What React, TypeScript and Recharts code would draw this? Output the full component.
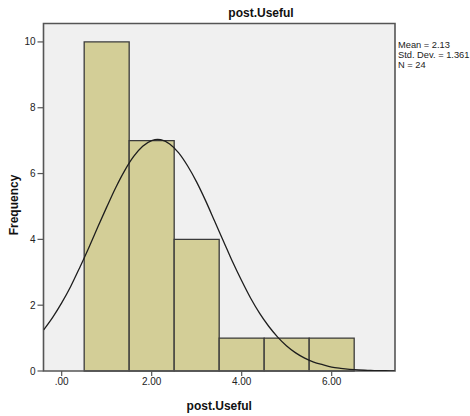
import React from "react";
import {
  ComposedChart,
  Line,
  XAxis,
  YAxis,
  ReferenceArea,
  CartesianGrid,
} from "recharts";

// Histogram bins (bin start, bin end, frequency)
const binStarts = [0.5, 1.5, 2.5, 3.5, 4.5, 5.5];
const binEnds = [1.5, 2.5, 3.5, 4.5, 5.5, 6.5];
const frequencies = [10, 7, 4, 1, 1, 1];

// Normal curve points
const curveX = [
  -0.4, -0.2, 0, 0.2, 0.4, 0.6, 0.8, 1.0, 1.2, 1.4, 1.6, 1.8, 2.0, 2.13, 2.2, 2.4,
  2.6, 2.8, 3.0, 3.2, 3.4, 3.6, 3.8, 4.0, 4.2, 4.4, 4.6, 4.8, 5.0, 5.2, 5.4, 5.6,
  5.8, 6.0, 6.2, 6.4, 6.6, 6.8, 7.0, 7.2, 7.4,
];
const curveY = [
  1.25, 1.63, 2.07, 2.57, 3.14, 3.74, 4.37, 4.98, 5.57, 6.09, 6.52, 6.83, 7.0, 7.04,
  7.03, 6.9, 6.63, 6.23, 5.74, 5.17, 4.55, 3.93, 3.31, 2.74, 2.21, 1.75, 1.36, 1.03,
  0.76, 0.55, 0.39, 0.27, 0.19, 0.12, 0.08, 0.05, 0.03, 0.02, 0.01, 0.007, 0.004,
];

const xTicks = [0, 2, 4, 6];
const xTickLabels = [".00", "2.00", "4.00", "6.00"];
const yTicks = [0, 2, 4, 6, 8, 10];

const titleText = "post.Useful";
const xLabel = "post.Useful";
const yLabel = "Frequency";
const statsLines = ["Mean = 2.13", "Std. Dev. = 1.361", "N = 24"];

const X_MIN = -0.404;
const X_MAX = 7.407;
const Y_MAX = 10.56;

const curveData = curveX.map((x, i) => ({ x, y: curveY[i] }));

const FONT = "'Liberation Sans', Arial, sans-serif";

export default function App() {
  return (
    <div style={{ position: "absolute", left: 0, top: 0, width: 470, height: 416, background: "#fff" }}>
      <ComposedChart
        width={470}
        height={416}
        data={curveData}
        margin={{ top: 23.5, right: 75, bottom: 0, left: 0 }}
        style={{ fontFamily: FONT }}
      >
        <CartesianGrid horizontal={false} vertical={false} fill="#f0f0f0" />
        <XAxis
          type="number"
          dataKey="x"
          domain={[X_MIN, X_MAX]}
          allowDataOverflow
          ticks={xTicks}
          tickFormatter={(v: number) => xTickLabels[xTicks.indexOf(v)] ?? String(v)}
          height={45}
          tickSize={5}
          tickMargin={2}
          axisLine={false}
          tickLine={{ stroke: "#555", strokeWidth: 1.2 }}
          tick={{ fill: "#222", fontSize: 10, fontFamily: FONT }}
          label={{
            value: xLabel,
            position: "insideBottom",
            offset: 6,
            style: { fontWeight: "bold", fontSize: 12, fill: "#111", fontFamily: FONT },
          }}
        />
        <YAxis
          type="number"
          domain={[0, Y_MAX]}
          allowDataOverflow
          ticks={yTicks}
          width={43.5}
          tickSize={6}
          tickMargin={2}
          axisLine={false}
          tickLine={{ stroke: "#555", strokeWidth: 1.2 }}
          tick={{ fill: "#222", fontSize: 10, fontFamily: FONT }}
        />
        {binStarts.map((s, i) => (
          <ReferenceArea
            key={i}
            x1={s}
            x2={binEnds[i]}
            y1={0}
            y2={frequencies[i]}
            fill="#d3ce97"
            fillOpacity={1}
            stroke="#3a3a3a"
            strokeWidth={1.3}
            ifOverflow="visible"
          />
        ))}
        <ReferenceArea
          x1={X_MIN}
          x2={X_MAX}
          y1={0}
          y2={Y_MAX}
          fill="none"
          stroke="#555"
          strokeWidth={1.6}
          ifOverflow="visible"
        />
        <Line
          type="monotone"
          dataKey="y"
          stroke="#1e1e1e"
          strokeWidth={1.3}
          dot={false}
          activeDot={false}
          isAnimationActive={false}
        />
        <text x={261} y={17} textAnchor="middle" fontFamily={FONT} fontSize={12} fontWeight="bold" fill="#111">
          {titleText}
        </text>
        <text
          x={18}
          y={205}
          transform="rotate(-90 18 205)"
          textAnchor="middle"
          fontFamily={FONT}
          fontSize={12}
          fontWeight="bold"
          fill="#111"
        >
          {yLabel}
        </text>
        {statsLines.map((t, i) => (
          <text key={i} x={398} y={48 + i * 10} fontFamily={FONT} fontSize={9.3} fill="#222">
            {t}
          </text>
        ))}
      </ComposedChart>
    </div>
  );
}
